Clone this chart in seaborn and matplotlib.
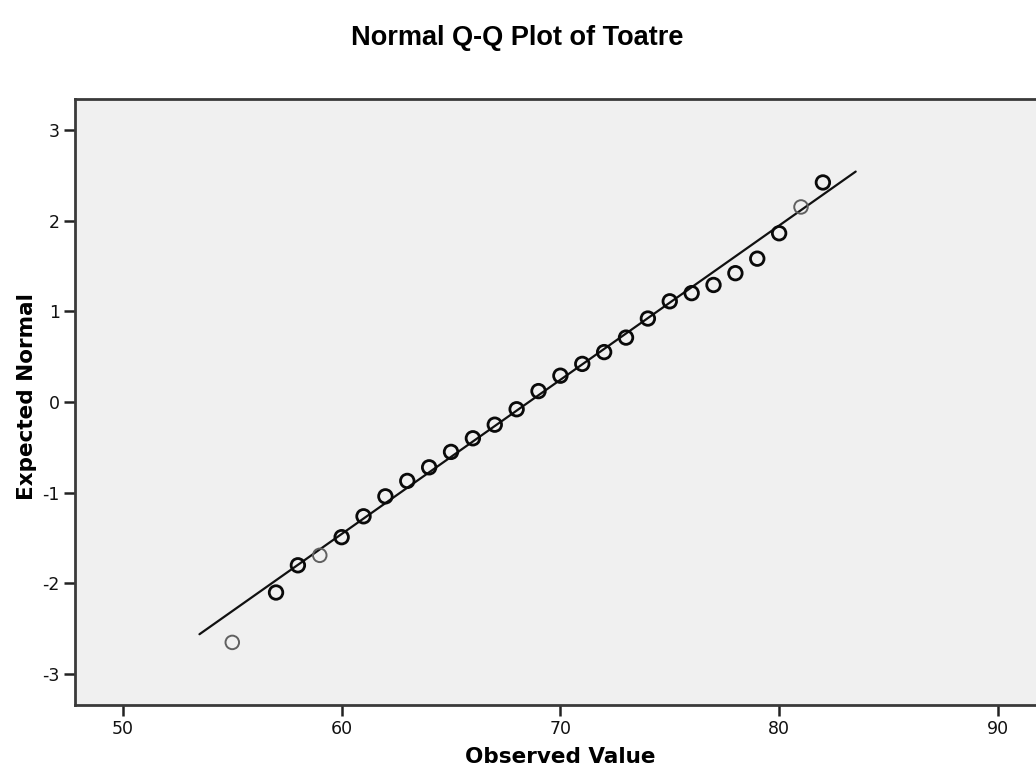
import matplotlib
matplotlib.use("Agg")
import matplotlib.pyplot as plt
import seaborn as sns
import pandas as pd

observed = [55, 57, 58, 59, 60, 61, 62, 63, 64, 65, 66, 67, 68, 69, 70,
            71, 72, 73, 74, 75, 76, 77, 78, 79, 80, 81, 82]
expected = [-2.65, -2.10, -1.80, -1.69, -1.49, -1.26, -1.04, -0.87, -0.72,
            -0.55, -0.40, -0.25, -0.08, 0.12, 0.29, 0.42, 0.55, 0.71, 0.92,
            1.11, 1.20, 1.29, 1.42, 1.58, 1.86, 2.15, 2.42]
# single observations are drawn lighter than overlapping ones
single = [True, False, False, True, False, False, False, False, False,
          False, False, False, False, False, False, False, False, False,
          False, False, False, False, False, False, False, True, False]

# Reference line endpoints
line_x = [53.5, 83.5]
line_y = [-2.56, 2.54]

x_ticks = [50, 60, 70, 80, 90]
y_ticks = [-3, -2, -1, 0, 1, 2, 3]

sns.set_theme(style="white")
plt.rcParams['font.family'] = ['DejaVu Sans']
plt.rcParams['text.color'] = 'black'

df = pd.DataFrame({"observed": observed, "expected": expected, "single": single})

fig = plt.figure(figsize=(10.36, 7.81), dpi=100)
ax = fig.add_axes([75 / 1036, 1 - 705 / 781, 971 / 1036, (705 - 99) / 781])
ax.set_facecolor("#f0f0f0")

sns.lineplot(x=line_x, y=line_y, ax=ax, color="#111111", linewidth=1.6, zorder=2)

dark = df[~df["single"]]
light = df[df["single"]]
sns.scatterplot(data=dark, x="observed", y="expected", ax=ax, marker="o",
                s=95, facecolor="none", edgecolor="#0a0a0a", linewidth=2.0, zorder=3)
sns.scatterplot(data=light, x="observed", y="expected", ax=ax, marker="o",
                s=95, facecolor="none", edgecolor="#606060", linewidth=1.4, zorder=3)

ax.set_xlim(47.81, 92.2)
ax.set_ylim(-3.34, 3.34)
ax.set_xticks(x_ticks)
ax.set_yticks(y_ticks)
ax.set_xticklabels([str(t) for t in x_ticks])
ax.set_yticklabels([str(t) for t in y_ticks])
ax.tick_params(axis="both", direction="out", length=8, width=1.8,
               color="#222222", labelsize=12.5, labelcolor="#111111", pad=3,
               bottom=True, left=True)
for sp in ax.spines.values():
    sp.set_color("#3a3a3a")
    sp.set_linewidth(2.0)
ax.set_xlabel("")
ax.set_ylabel("")

fig.text(0.4995, 1 - 38 / 781, "Normal Q-Q Plot of Toatre", ha="center", va="center",
         fontsize=19.5, fontweight="bold", color="black",
         family=["Liberation Sans", "DejaVu Sans"])
fig.text(560 / 1036, 1 - 757 / 781, "Observed Value", ha="center", va="center",
         fontsize=15.5, fontweight="bold", color="black", family=["DejaVu Sans"])
fig.text(27 / 1036, 1 - 397 / 781, "Expected Normal", ha="center", va="center",
         rotation=90, fontsize=15.5, fontweight="bold", color="black",
         family=["DejaVu Sans"])

fig.savefig("out.png", dpi=100, facecolor="white")
